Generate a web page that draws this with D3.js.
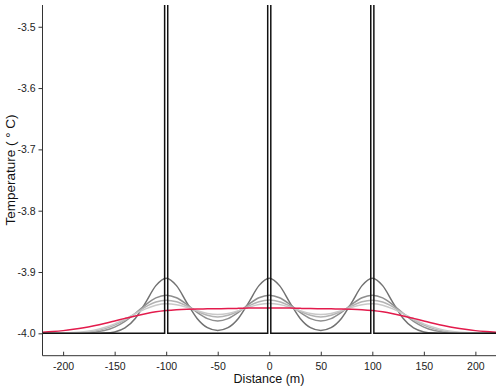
<!DOCTYPE html>
<html>
<head>
<meta charset="utf-8">
<script src="https://cdn.jsdelivr.net/npm/d3@7"></script>
<style>
  body { margin: 0; background: #fff; }
  text { font-family: "Liberation Sans", Arial, sans-serif; }
</style>
</head>
<body>
<div id="container"></div>
<script>
// distance grid (m)
var distance = [-220,-210,-200,-190,-180,-170,-160,-150,-140,-130,-120,-110,-100,-90,-80,-70,-60,-50,-40,-30,-20,-10,
                0,10,20,30,40,50,60,70,80,90,100,110,120,130,140,150,160,170,180,190,200,210,220];

// temperature profiles, early -> late
var temp1 = [-4.0000,-4.0000,-4.0000,-4.0000,-4.0000,-3.9999,-3.9995,-3.9977,-3.9913,-3.9758,-3.9498,-3.9222,-3.9100,-3.9222,-3.9498,-3.9758,-3.9908,-3.9953,-3.9908,-3.9758,-3.9498,-3.9222,
             -3.9100,-3.9222,-3.9498,-3.9758,-3.9908,-3.9953,-3.9908,-3.9758,-3.9498,-3.9222,-3.9100,-3.9222,-3.9498,-3.9758,-3.9913,-3.9977,-3.9995,-3.9999,-4.0000,-4.0000,-4.0000,-4.0000,-4.0000];
var temp2 = [-4.0000,-4.0000,-4.0000,-3.9998,-3.9994,-3.9982,-3.9955,-3.9899,-3.9806,-3.9677,-3.9535,-3.9422,-3.9378,-3.9420,-3.9529,-3.9660,-3.9761,-3.9799,-3.9761,-3.9660,-3.9529,-3.9420,
             -3.9377,-3.9420,-3.9529,-3.9660,-3.9761,-3.9799,-3.9761,-3.9660,-3.9529,-3.9420,-3.9378,-3.9422,-3.9535,-3.9677,-3.9806,-3.9899,-3.9955,-3.9982,-3.9994,-3.9998,-4.0000,-4.0000,-4.0000];
var temp3 = [-4.0000,-3.9999,-3.9998,-3.9994,-3.9985,-3.9965,-3.9927,-3.9866,-3.9779,-3.9674,-3.9569,-3.9490,-3.9460,-3.9485,-3.9554,-3.9638,-3.9706,-3.9732,-3.9706,-3.9638,-3.9554,-3.9484,
             -3.9458,-3.9484,-3.9554,-3.9638,-3.9706,-3.9732,-3.9706,-3.9638,-3.9554,-3.9485,-3.9460,-3.9490,-3.9569,-3.9674,-3.9779,-3.9866,-3.9927,-3.9965,-3.9985,-3.9994,-3.9998,-3.9999,-4.0000];
var temp4 = [-3.9999,-3.9998,-3.9995,-3.9988,-3.9973,-3.9948,-3.9906,-3.9846,-3.9769,-3.9683,-3.9602,-3.9543,-3.9519,-3.9533,-3.9576,-3.9631,-3.9675,-3.9692,-3.9675,-3.9630,-3.9575,-3.9531,
             -3.9514,-3.9531,-3.9575,-3.9630,-3.9675,-3.9692,-3.9675,-3.9631,-3.9576,-3.9533,-3.9519,-3.9543,-3.9602,-3.9683,-3.9769,-3.9846,-3.9906,-3.9948,-3.9973,-3.9988,-3.9995,-3.9998,-3.9999];
var tempFinal = [-3.9982,-3.9971,-3.9956,-3.9935,-3.9909,-3.9876,-3.9839,-3.9798,-3.9756,-3.9716,-3.9680,-3.9650,-3.9629,-3.9615,-3.9607,-3.9603,-3.9601,-3.9600,-3.9597,-3.9593,-3.9589,-3.9586,
                 -3.9585,-3.9586,-3.9589,-3.9593,-3.9597,-3.9600,-3.9601,-3.9603,-3.9607,-3.9615,-3.9629,-3.9650,-3.9680,-3.9716,-3.9756,-3.9798,-3.9839,-3.9876,-3.9909,-3.9935,-3.9956,-3.9971,-3.9982];

// initial condition: narrow pulses
var initX = [-220,-101.5,-101.5,-98.5,-98.5,-1.5,-1.5,1.5,1.5,98.5,98.5,101.5,101.5,220];
var initT = [-4,-4,-2.63,-2.63,-4,-4,-2.63,-2.63,-4,-4,-2.63,-2.63,-4,-4];

var xTicks = [-200,-150,-100,-50,0,50,100,150,200];
var yTicks = [-4.0,-3.9,-3.8,-3.7,-3.6,-3.5];

var profiles = [
  {vals: temp1, color: "#727272"},
  {vals: temp2, color: "#8e8e8e"},
  {vals: temp3, color: "#b3b3b3"},
  {vals: temp4, color: "#c9c9c9"},
  {vals: tempFinal, color: "#e31b4c"}
];

var width = 500, height = 389;
var mLeft = 42.5, mRight = 496, mTop = 5, mBottom = 355.7;

var svg = d3.select("#container").append("svg")
    .attr("width", width)
    .attr("height", height);

var x = d3.scaleLinear().domain([-220, 220]).range([mLeft, mRight]);
var y = d3.scaleLinear().domain([-4.0365, -3.4645]).range([mBottom, mTop]);

svg.append("clipPath").attr("id", "clip")
   .append("rect")
   .attr("x", mLeft).attr("y", mTop)
   .attr("width", mRight - mLeft).attr("height", mBottom - mTop);

var line = d3.line()
    .x(function(d) { return x(d[0]); })
    .y(function(d) { return y(d[1]); })
    .curve(d3.curveMonotoneX);

var plot = svg.append("g").attr("clip-path", "url(#clip)");

profiles.forEach(function(p) {
  plot.append("path")
      .datum(distance.map(function(dx, i) { return [dx, p.vals[i]]; }))
      .attr("fill", "none")
      .attr("stroke", p.color)
      .attr("stroke-width", 1.5)
      .attr("d", line);
});

plot.append("path")
    .datum(initX.map(function(dx, i) { return [dx, initT[i]]; }))
    .attr("fill", "none")
    .attr("stroke", "#111")
    .attr("stroke-width", 1.5)
    .attr("d", d3.line().x(function(d) { return x(d[0]); }).y(function(d) { return y(d[1]); }));

// axes
var hyphen = function(s) { return s.replace("\u2212", "-"); };
var gx = svg.append("g")
    .attr("transform", "translate(0," + mBottom + ")")
    .call(d3.axisBottom(x).tickValues(xTicks).tickFormat(function(d) { return hyphen(d3.format("d")(d)); })
          .tickSize(-4).tickPadding(7).tickSizeOuter(0));
var gy = svg.append("g")
    .attr("transform", "translate(" + mLeft + ",0)")
    .call(d3.axisLeft(y).tickValues(yTicks).tickFormat(function(d) { return hyphen(d3.format(".1f")(d)); })
          .tickSize(4).tickPadding(3).tickSizeOuter(0));

[gx, gy].forEach(function(g) {
  g.select(".domain").attr("stroke", "#333");
  g.selectAll(".tick line").attr("stroke", "#333");
  g.selectAll(".tick text").attr("font-size", 10.5).attr("fill", "#222")
   .attr("font-family", "'Liberation Sans', Arial, sans-serif");
});
gx.select(".domain").attr("d", "M" + mLeft + ",0H" + mRight);
gy.select(".domain").attr("d", "M0," + mTop + "V" + mBottom);

svg.append("text")
   .attr("x", 269).attr("y", 383)
   .attr("text-anchor", "middle")
   .attr("font-size", 12.5)
   .attr("fill", "#111")
   .text("Distance (m)");

svg.append("text")
   .attr("transform", "translate(15,170) rotate(-90)")
   .attr("text-anchor", "middle")
   .attr("font-size", 13.5)
   .attr("fill", "#111")
   .text("Temperature ( \u00b0 C)");
</script>
</body>
</html>
